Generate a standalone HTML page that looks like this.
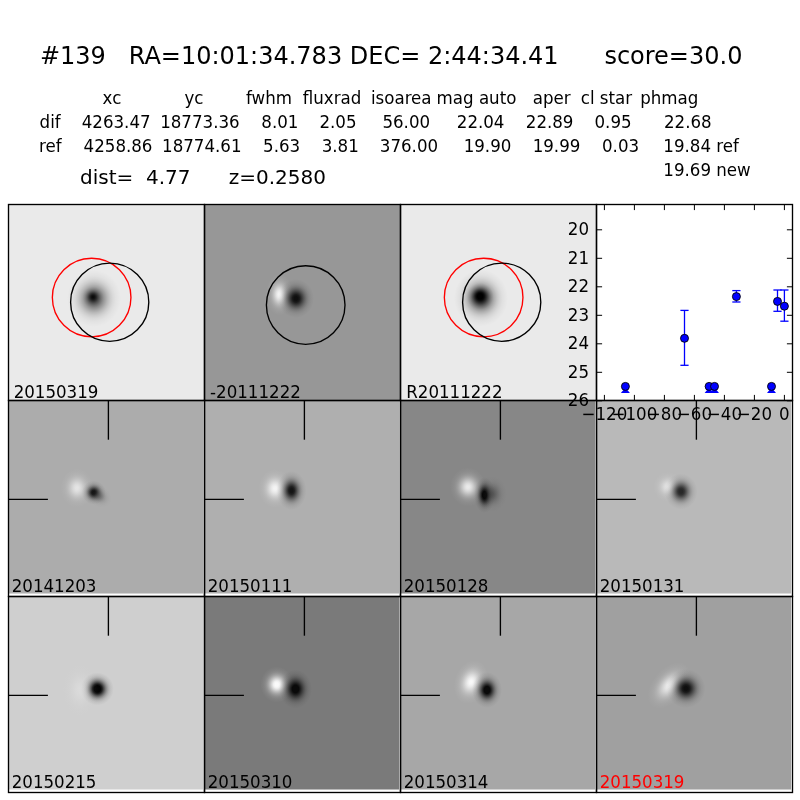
<!DOCTYPE html>
<html><head><meta charset="utf-8"><style>
html,body{margin:0;padding:0;background:#fff;width:800px;height:800px;overflow:hidden}
svg{display:block}
text{font-family:"DejaVu Sans","Liberation Sans",sans-serif;white-space:pre}
</style></head><body>
<svg width="800" height="800" viewBox="0 0 800 800">
<defs><clipPath id="c1"><rect x="8" y="204" width="196" height="196"/></clipPath><radialGradient id="g2"><stop offset="0.00" stop-color="rgb(0,0,0)" stop-opacity="0.900"/><stop offset="0.10" stop-color="rgb(0,0,0)" stop-opacity="0.860"/><stop offset="0.20" stop-color="rgb(0,0,0)" stop-opacity="0.752"/><stop offset="0.30" stop-color="rgb(0,0,0)" stop-opacity="0.600"/><stop offset="0.40" stop-color="rgb(0,0,0)" stop-opacity="0.438"/><stop offset="0.50" stop-color="rgb(0,0,0)" stop-opacity="0.292"/><stop offset="0.60" stop-color="rgb(0,0,0)" stop-opacity="0.178"/><stop offset="0.70" stop-color="rgb(0,0,0)" stop-opacity="0.099"/><stop offset="0.80" stop-color="rgb(0,0,0)" stop-opacity="0.051"/><stop offset="0.90" stop-color="rgb(0,0,0)" stop-opacity="0.024"/><stop offset="1.00" stop-color="rgb(0,0,0)" stop-opacity="0.000"/></radialGradient><radialGradient id="g3"><stop offset="0.00" stop-color="rgb(0,0,0)" stop-opacity="0.650"/><stop offset="0.10" stop-color="rgb(0,0,0)" stop-opacity="0.621"/><stop offset="0.20" stop-color="rgb(0,0,0)" stop-opacity="0.543"/><stop offset="0.30" stop-color="rgb(0,0,0)" stop-opacity="0.434"/><stop offset="0.40" stop-color="rgb(0,0,0)" stop-opacity="0.316"/><stop offset="0.50" stop-color="rgb(0,0,0)" stop-opacity="0.211"/><stop offset="0.60" stop-color="rgb(0,0,0)" stop-opacity="0.129"/><stop offset="0.70" stop-color="rgb(0,0,0)" stop-opacity="0.072"/><stop offset="0.80" stop-color="rgb(0,0,0)" stop-opacity="0.036"/><stop offset="0.90" stop-color="rgb(0,0,0)" stop-opacity="0.017"/><stop offset="1.00" stop-color="rgb(0,0,0)" stop-opacity="0.000"/></radialGradient><clipPath id="c4"><rect x="204" y="204" width="196" height="196"/></clipPath><radialGradient id="g5"><stop offset="0.00" stop-color="rgb(245,245,245)" stop-opacity="1.000"/><stop offset="0.10" stop-color="rgb(245,245,245)" stop-opacity="0.956"/><stop offset="0.20" stop-color="rgb(245,245,245)" stop-opacity="0.835"/><stop offset="0.30" stop-color="rgb(245,245,245)" stop-opacity="0.667"/><stop offset="0.40" stop-color="rgb(245,245,245)" stop-opacity="0.487"/><stop offset="0.50" stop-color="rgb(245,245,245)" stop-opacity="0.325"/><stop offset="0.60" stop-color="rgb(245,245,245)" stop-opacity="0.198"/><stop offset="0.70" stop-color="rgb(245,245,245)" stop-opacity="0.110"/><stop offset="0.80" stop-color="rgb(245,245,245)" stop-opacity="0.056"/><stop offset="0.90" stop-color="rgb(245,245,245)" stop-opacity="0.026"/><stop offset="1.00" stop-color="rgb(245,245,245)" stop-opacity="0.000"/></radialGradient><radialGradient id="g6"><stop offset="0.00" stop-color="rgb(15,15,15)" stop-opacity="1.000"/><stop offset="0.10" stop-color="rgb(15,15,15)" stop-opacity="1.000"/><stop offset="0.20" stop-color="rgb(15,15,15)" stop-opacity="0.919"/><stop offset="0.30" stop-color="rgb(15,15,15)" stop-opacity="0.734"/><stop offset="0.40" stop-color="rgb(15,15,15)" stop-opacity="0.535"/><stop offset="0.50" stop-color="rgb(15,15,15)" stop-opacity="0.357"/><stop offset="0.60" stop-color="rgb(15,15,15)" stop-opacity="0.218"/><stop offset="0.70" stop-color="rgb(15,15,15)" stop-opacity="0.121"/><stop offset="0.80" stop-color="rgb(15,15,15)" stop-opacity="0.062"/><stop offset="0.90" stop-color="rgb(15,15,15)" stop-opacity="0.029"/><stop offset="1.00" stop-color="rgb(15,15,15)" stop-opacity="0.000"/></radialGradient><clipPath id="c7"><rect x="400" y="204" width="196" height="196"/></clipPath><radialGradient id="g8"><stop offset="0.00" stop-color="rgb(0,0,0)" stop-opacity="1.000"/><stop offset="0.10" stop-color="rgb(0,0,0)" stop-opacity="1.000"/><stop offset="0.20" stop-color="rgb(0,0,0)" stop-opacity="1.000"/><stop offset="0.30" stop-color="rgb(0,0,0)" stop-opacity="0.867"/><stop offset="0.40" stop-color="rgb(0,0,0)" stop-opacity="0.633"/><stop offset="0.50" stop-color="rgb(0,0,0)" stop-opacity="0.422"/><stop offset="0.60" stop-color="rgb(0,0,0)" stop-opacity="0.257"/><stop offset="0.70" stop-color="rgb(0,0,0)" stop-opacity="0.143"/><stop offset="0.80" stop-color="rgb(0,0,0)" stop-opacity="0.073"/><stop offset="0.90" stop-color="rgb(0,0,0)" stop-opacity="0.034"/><stop offset="1.00" stop-color="rgb(0,0,0)" stop-opacity="0.000"/></radialGradient><radialGradient id="g9"><stop offset="0.00" stop-color="rgb(0,0,0)" stop-opacity="0.750"/><stop offset="0.10" stop-color="rgb(0,0,0)" stop-opacity="0.717"/><stop offset="0.20" stop-color="rgb(0,0,0)" stop-opacity="0.626"/><stop offset="0.30" stop-color="rgb(0,0,0)" stop-opacity="0.500"/><stop offset="0.40" stop-color="rgb(0,0,0)" stop-opacity="0.365"/><stop offset="0.50" stop-color="rgb(0,0,0)" stop-opacity="0.243"/><stop offset="0.60" stop-color="rgb(0,0,0)" stop-opacity="0.148"/><stop offset="0.70" stop-color="rgb(0,0,0)" stop-opacity="0.083"/><stop offset="0.80" stop-color="rgb(0,0,0)" stop-opacity="0.042"/><stop offset="0.90" stop-color="rgb(0,0,0)" stop-opacity="0.020"/><stop offset="1.00" stop-color="rgb(0,0,0)" stop-opacity="0.000"/></radialGradient><clipPath id="c10"><rect x="8" y="400" width="195.2" height="193.7"/></clipPath><radialGradient id="g11"><stop offset="0.00" stop-color="rgb(235,235,235)" stop-opacity="0.900"/><stop offset="0.10" stop-color="rgb(235,235,235)" stop-opacity="0.860"/><stop offset="0.20" stop-color="rgb(235,235,235)" stop-opacity="0.752"/><stop offset="0.30" stop-color="rgb(235,235,235)" stop-opacity="0.600"/><stop offset="0.40" stop-color="rgb(235,235,235)" stop-opacity="0.438"/><stop offset="0.50" stop-color="rgb(235,235,235)" stop-opacity="0.292"/><stop offset="0.60" stop-color="rgb(235,235,235)" stop-opacity="0.178"/><stop offset="0.70" stop-color="rgb(235,235,235)" stop-opacity="0.099"/><stop offset="0.80" stop-color="rgb(235,235,235)" stop-opacity="0.051"/><stop offset="0.90" stop-color="rgb(235,235,235)" stop-opacity="0.024"/><stop offset="1.00" stop-color="rgb(235,235,235)" stop-opacity="0.000"/></radialGradient><radialGradient id="g12"><stop offset="0.00" stop-color="rgb(15,15,15)" stop-opacity="1.000"/><stop offset="0.10" stop-color="rgb(15,15,15)" stop-opacity="1.000"/><stop offset="0.20" stop-color="rgb(15,15,15)" stop-opacity="0.919"/><stop offset="0.30" stop-color="rgb(15,15,15)" stop-opacity="0.734"/><stop offset="0.40" stop-color="rgb(15,15,15)" stop-opacity="0.535"/><stop offset="0.50" stop-color="rgb(15,15,15)" stop-opacity="0.357"/><stop offset="0.60" stop-color="rgb(15,15,15)" stop-opacity="0.218"/><stop offset="0.70" stop-color="rgb(15,15,15)" stop-opacity="0.121"/><stop offset="0.80" stop-color="rgb(15,15,15)" stop-opacity="0.062"/><stop offset="0.90" stop-color="rgb(15,15,15)" stop-opacity="0.029"/><stop offset="1.00" stop-color="rgb(15,15,15)" stop-opacity="0.000"/></radialGradient><radialGradient id="g13"><stop offset="0.00" stop-color="rgb(60,60,60)" stop-opacity="0.450"/><stop offset="0.10" stop-color="rgb(60,60,60)" stop-opacity="0.430"/><stop offset="0.20" stop-color="rgb(60,60,60)" stop-opacity="0.376"/><stop offset="0.30" stop-color="rgb(60,60,60)" stop-opacity="0.300"/><stop offset="0.40" stop-color="rgb(60,60,60)" stop-opacity="0.219"/><stop offset="0.50" stop-color="rgb(60,60,60)" stop-opacity="0.146"/><stop offset="0.60" stop-color="rgb(60,60,60)" stop-opacity="0.089"/><stop offset="0.70" stop-color="rgb(60,60,60)" stop-opacity="0.050"/><stop offset="0.80" stop-color="rgb(60,60,60)" stop-opacity="0.025"/><stop offset="0.90" stop-color="rgb(60,60,60)" stop-opacity="0.012"/><stop offset="1.00" stop-color="rgb(60,60,60)" stop-opacity="0.000"/></radialGradient><clipPath id="c14"><rect x="204" y="400" width="195.2" height="193.7"/></clipPath><radialGradient id="g15"><stop offset="0.00" stop-color="rgb(245,245,245)" stop-opacity="1.000"/><stop offset="0.10" stop-color="rgb(245,245,245)" stop-opacity="0.956"/><stop offset="0.20" stop-color="rgb(245,245,245)" stop-opacity="0.835"/><stop offset="0.30" stop-color="rgb(245,245,245)" stop-opacity="0.667"/><stop offset="0.40" stop-color="rgb(245,245,245)" stop-opacity="0.487"/><stop offset="0.50" stop-color="rgb(245,245,245)" stop-opacity="0.325"/><stop offset="0.60" stop-color="rgb(245,245,245)" stop-opacity="0.198"/><stop offset="0.70" stop-color="rgb(245,245,245)" stop-opacity="0.110"/><stop offset="0.80" stop-color="rgb(245,245,245)" stop-opacity="0.056"/><stop offset="0.90" stop-color="rgb(245,245,245)" stop-opacity="0.026"/><stop offset="1.00" stop-color="rgb(245,245,245)" stop-opacity="0.000"/></radialGradient><radialGradient id="g16"><stop offset="0.00" stop-color="rgb(20,20,20)" stop-opacity="1.000"/><stop offset="0.10" stop-color="rgb(20,20,20)" stop-opacity="1.000"/><stop offset="0.20" stop-color="rgb(20,20,20)" stop-opacity="0.919"/><stop offset="0.30" stop-color="rgb(20,20,20)" stop-opacity="0.734"/><stop offset="0.40" stop-color="rgb(20,20,20)" stop-opacity="0.535"/><stop offset="0.50" stop-color="rgb(20,20,20)" stop-opacity="0.357"/><stop offset="0.60" stop-color="rgb(20,20,20)" stop-opacity="0.218"/><stop offset="0.70" stop-color="rgb(20,20,20)" stop-opacity="0.121"/><stop offset="0.80" stop-color="rgb(20,20,20)" stop-opacity="0.062"/><stop offset="0.90" stop-color="rgb(20,20,20)" stop-opacity="0.029"/><stop offset="1.00" stop-color="rgb(20,20,20)" stop-opacity="0.000"/></radialGradient><clipPath id="c17"><rect x="400" y="400" width="195.2" height="193.7"/></clipPath><radialGradient id="g18"><stop offset="0.00" stop-color="rgb(235,235,235)" stop-opacity="1.000"/><stop offset="0.10" stop-color="rgb(235,235,235)" stop-opacity="0.956"/><stop offset="0.20" stop-color="rgb(235,235,235)" stop-opacity="0.835"/><stop offset="0.30" stop-color="rgb(235,235,235)" stop-opacity="0.667"/><stop offset="0.40" stop-color="rgb(235,235,235)" stop-opacity="0.487"/><stop offset="0.50" stop-color="rgb(235,235,235)" stop-opacity="0.325"/><stop offset="0.60" stop-color="rgb(235,235,235)" stop-opacity="0.198"/><stop offset="0.70" stop-color="rgb(235,235,235)" stop-opacity="0.110"/><stop offset="0.80" stop-color="rgb(235,235,235)" stop-opacity="0.056"/><stop offset="0.90" stop-color="rgb(235,235,235)" stop-opacity="0.026"/><stop offset="1.00" stop-color="rgb(235,235,235)" stop-opacity="0.000"/></radialGradient><radialGradient id="g19"><stop offset="0.00" stop-color="rgb(5,5,5)" stop-opacity="1.000"/><stop offset="0.10" stop-color="rgb(5,5,5)" stop-opacity="1.000"/><stop offset="0.20" stop-color="rgb(5,5,5)" stop-opacity="1.000"/><stop offset="0.30" stop-color="rgb(5,5,5)" stop-opacity="0.800"/><stop offset="0.40" stop-color="rgb(5,5,5)" stop-opacity="0.584"/><stop offset="0.50" stop-color="rgb(5,5,5)" stop-opacity="0.390"/><stop offset="0.60" stop-color="rgb(5,5,5)" stop-opacity="0.237"/><stop offset="0.70" stop-color="rgb(5,5,5)" stop-opacity="0.132"/><stop offset="0.80" stop-color="rgb(5,5,5)" stop-opacity="0.067"/><stop offset="0.90" stop-color="rgb(5,5,5)" stop-opacity="0.031"/><stop offset="1.00" stop-color="rgb(5,5,5)" stop-opacity="0.000"/></radialGradient><radialGradient id="g20"><stop offset="0.00" stop-color="rgb(40,40,40)" stop-opacity="0.500"/><stop offset="0.10" stop-color="rgb(40,40,40)" stop-opacity="0.478"/><stop offset="0.20" stop-color="rgb(40,40,40)" stop-opacity="0.418"/><stop offset="0.30" stop-color="rgb(40,40,40)" stop-opacity="0.333"/><stop offset="0.40" stop-color="rgb(40,40,40)" stop-opacity="0.243"/><stop offset="0.50" stop-color="rgb(40,40,40)" stop-opacity="0.162"/><stop offset="0.60" stop-color="rgb(40,40,40)" stop-opacity="0.099"/><stop offset="0.70" stop-color="rgb(40,40,40)" stop-opacity="0.055"/><stop offset="0.80" stop-color="rgb(40,40,40)" stop-opacity="0.028"/><stop offset="0.90" stop-color="rgb(40,40,40)" stop-opacity="0.013"/><stop offset="1.00" stop-color="rgb(40,40,40)" stop-opacity="0.000"/></radialGradient><clipPath id="c21"><rect x="596" y="400" width="195.2" height="193.7"/></clipPath><radialGradient id="g22"><stop offset="0.00" stop-color="rgb(240,240,240)" stop-opacity="0.800"/><stop offset="0.10" stop-color="rgb(240,240,240)" stop-opacity="0.765"/><stop offset="0.20" stop-color="rgb(240,240,240)" stop-opacity="0.668"/><stop offset="0.30" stop-color="rgb(240,240,240)" stop-opacity="0.534"/><stop offset="0.40" stop-color="rgb(240,240,240)" stop-opacity="0.389"/><stop offset="0.50" stop-color="rgb(240,240,240)" stop-opacity="0.260"/><stop offset="0.60" stop-color="rgb(240,240,240)" stop-opacity="0.158"/><stop offset="0.70" stop-color="rgb(240,240,240)" stop-opacity="0.088"/><stop offset="0.80" stop-color="rgb(240,240,240)" stop-opacity="0.045"/><stop offset="0.90" stop-color="rgb(240,240,240)" stop-opacity="0.021"/><stop offset="1.00" stop-color="rgb(240,240,240)" stop-opacity="0.000"/></radialGradient><radialGradient id="g23"><stop offset="0.00" stop-color="rgb(40,40,40)" stop-opacity="1.000"/><stop offset="0.10" stop-color="rgb(40,40,40)" stop-opacity="1.000"/><stop offset="0.20" stop-color="rgb(40,40,40)" stop-opacity="0.919"/><stop offset="0.30" stop-color="rgb(40,40,40)" stop-opacity="0.734"/><stop offset="0.40" stop-color="rgb(40,40,40)" stop-opacity="0.535"/><stop offset="0.50" stop-color="rgb(40,40,40)" stop-opacity="0.357"/><stop offset="0.60" stop-color="rgb(40,40,40)" stop-opacity="0.218"/><stop offset="0.70" stop-color="rgb(40,40,40)" stop-opacity="0.121"/><stop offset="0.80" stop-color="rgb(40,40,40)" stop-opacity="0.062"/><stop offset="0.90" stop-color="rgb(40,40,40)" stop-opacity="0.029"/><stop offset="1.00" stop-color="rgb(40,40,40)" stop-opacity="0.000"/></radialGradient><clipPath id="c24"><rect x="8" y="596" width="195.2" height="193.7"/></clipPath><radialGradient id="g25"><stop offset="0.00" stop-color="rgb(5,5,5)" stop-opacity="1.000"/><stop offset="0.10" stop-color="rgb(5,5,5)" stop-opacity="1.000"/><stop offset="0.20" stop-color="rgb(5,5,5)" stop-opacity="1.000"/><stop offset="0.30" stop-color="rgb(5,5,5)" stop-opacity="0.867"/><stop offset="0.40" stop-color="rgb(5,5,5)" stop-opacity="0.633"/><stop offset="0.50" stop-color="rgb(5,5,5)" stop-opacity="0.422"/><stop offset="0.60" stop-color="rgb(5,5,5)" stop-opacity="0.257"/><stop offset="0.70" stop-color="rgb(5,5,5)" stop-opacity="0.143"/><stop offset="0.80" stop-color="rgb(5,5,5)" stop-opacity="0.073"/><stop offset="0.90" stop-color="rgb(5,5,5)" stop-opacity="0.034"/><stop offset="1.00" stop-color="rgb(5,5,5)" stop-opacity="0.000"/></radialGradient><radialGradient id="g26"><stop offset="0.00" stop-color="rgb(230,230,230)" stop-opacity="0.500"/><stop offset="0.10" stop-color="rgb(230,230,230)" stop-opacity="0.478"/><stop offset="0.20" stop-color="rgb(230,230,230)" stop-opacity="0.418"/><stop offset="0.30" stop-color="rgb(230,230,230)" stop-opacity="0.333"/><stop offset="0.40" stop-color="rgb(230,230,230)" stop-opacity="0.243"/><stop offset="0.50" stop-color="rgb(230,230,230)" stop-opacity="0.162"/><stop offset="0.60" stop-color="rgb(230,230,230)" stop-opacity="0.099"/><stop offset="0.70" stop-color="rgb(230,230,230)" stop-opacity="0.055"/><stop offset="0.80" stop-color="rgb(230,230,230)" stop-opacity="0.028"/><stop offset="0.90" stop-color="rgb(230,230,230)" stop-opacity="0.013"/><stop offset="1.00" stop-color="rgb(230,230,230)" stop-opacity="0.000"/></radialGradient><clipPath id="c27"><rect x="204" y="596" width="195.2" height="193.7"/></clipPath><radialGradient id="g28"><stop offset="0.00" stop-color="rgb(250,250,250)" stop-opacity="1.000"/><stop offset="0.10" stop-color="rgb(250,250,250)" stop-opacity="1.000"/><stop offset="0.20" stop-color="rgb(250,250,250)" stop-opacity="0.919"/><stop offset="0.30" stop-color="rgb(250,250,250)" stop-opacity="0.734"/><stop offset="0.40" stop-color="rgb(250,250,250)" stop-opacity="0.535"/><stop offset="0.50" stop-color="rgb(250,250,250)" stop-opacity="0.357"/><stop offset="0.60" stop-color="rgb(250,250,250)" stop-opacity="0.218"/><stop offset="0.70" stop-color="rgb(250,250,250)" stop-opacity="0.121"/><stop offset="0.80" stop-color="rgb(250,250,250)" stop-opacity="0.062"/><stop offset="0.90" stop-color="rgb(250,250,250)" stop-opacity="0.029"/><stop offset="1.00" stop-color="rgb(250,250,250)" stop-opacity="0.000"/></radialGradient><radialGradient id="g29"><stop offset="0.00" stop-color="rgb(10,10,10)" stop-opacity="1.000"/><stop offset="0.10" stop-color="rgb(10,10,10)" stop-opacity="1.000"/><stop offset="0.20" stop-color="rgb(10,10,10)" stop-opacity="1.000"/><stop offset="0.30" stop-color="rgb(10,10,10)" stop-opacity="0.800"/><stop offset="0.40" stop-color="rgb(10,10,10)" stop-opacity="0.584"/><stop offset="0.50" stop-color="rgb(10,10,10)" stop-opacity="0.390"/><stop offset="0.60" stop-color="rgb(10,10,10)" stop-opacity="0.237"/><stop offset="0.70" stop-color="rgb(10,10,10)" stop-opacity="0.132"/><stop offset="0.80" stop-color="rgb(10,10,10)" stop-opacity="0.067"/><stop offset="0.90" stop-color="rgb(10,10,10)" stop-opacity="0.031"/><stop offset="1.00" stop-color="rgb(10,10,10)" stop-opacity="0.000"/></radialGradient><clipPath id="c30"><rect x="400" y="596" width="195.2" height="193.7"/></clipPath><radialGradient id="g31"><stop offset="0.00" stop-color="rgb(250,250,250)" stop-opacity="1.000"/><stop offset="0.10" stop-color="rgb(250,250,250)" stop-opacity="0.956"/><stop offset="0.20" stop-color="rgb(250,250,250)" stop-opacity="0.835"/><stop offset="0.30" stop-color="rgb(250,250,250)" stop-opacity="0.667"/><stop offset="0.40" stop-color="rgb(250,250,250)" stop-opacity="0.487"/><stop offset="0.50" stop-color="rgb(250,250,250)" stop-opacity="0.325"/><stop offset="0.60" stop-color="rgb(250,250,250)" stop-opacity="0.198"/><stop offset="0.70" stop-color="rgb(250,250,250)" stop-opacity="0.110"/><stop offset="0.80" stop-color="rgb(250,250,250)" stop-opacity="0.056"/><stop offset="0.90" stop-color="rgb(250,250,250)" stop-opacity="0.026"/><stop offset="1.00" stop-color="rgb(250,250,250)" stop-opacity="0.000"/></radialGradient><radialGradient id="g32"><stop offset="0.00" stop-color="rgb(10,10,10)" stop-opacity="1.000"/><stop offset="0.10" stop-color="rgb(10,10,10)" stop-opacity="1.000"/><stop offset="0.20" stop-color="rgb(10,10,10)" stop-opacity="1.000"/><stop offset="0.30" stop-color="rgb(10,10,10)" stop-opacity="0.800"/><stop offset="0.40" stop-color="rgb(10,10,10)" stop-opacity="0.584"/><stop offset="0.50" stop-color="rgb(10,10,10)" stop-opacity="0.390"/><stop offset="0.60" stop-color="rgb(10,10,10)" stop-opacity="0.237"/><stop offset="0.70" stop-color="rgb(10,10,10)" stop-opacity="0.132"/><stop offset="0.80" stop-color="rgb(10,10,10)" stop-opacity="0.067"/><stop offset="0.90" stop-color="rgb(10,10,10)" stop-opacity="0.031"/><stop offset="1.00" stop-color="rgb(10,10,10)" stop-opacity="0.000"/></radialGradient><clipPath id="c33"><rect x="596" y="596" width="195.2" height="193.7"/></clipPath><radialGradient id="g34"><stop offset="0.00" stop-color="rgb(245,245,245)" stop-opacity="0.900"/><stop offset="0.10" stop-color="rgb(245,245,245)" stop-opacity="0.860"/><stop offset="0.20" stop-color="rgb(245,245,245)" stop-opacity="0.752"/><stop offset="0.30" stop-color="rgb(245,245,245)" stop-opacity="0.600"/><stop offset="0.40" stop-color="rgb(245,245,245)" stop-opacity="0.438"/><stop offset="0.50" stop-color="rgb(245,245,245)" stop-opacity="0.292"/><stop offset="0.60" stop-color="rgb(245,245,245)" stop-opacity="0.178"/><stop offset="0.70" stop-color="rgb(245,245,245)" stop-opacity="0.099"/><stop offset="0.80" stop-color="rgb(245,245,245)" stop-opacity="0.051"/><stop offset="0.90" stop-color="rgb(245,245,245)" stop-opacity="0.024"/><stop offset="1.00" stop-color="rgb(245,245,245)" stop-opacity="0.000"/></radialGradient><radialGradient id="g35"><stop offset="0.00" stop-color="rgb(15,15,15)" stop-opacity="1.000"/><stop offset="0.10" stop-color="rgb(15,15,15)" stop-opacity="1.000"/><stop offset="0.20" stop-color="rgb(15,15,15)" stop-opacity="0.919"/><stop offset="0.30" stop-color="rgb(15,15,15)" stop-opacity="0.734"/><stop offset="0.40" stop-color="rgb(15,15,15)" stop-opacity="0.535"/><stop offset="0.50" stop-color="rgb(15,15,15)" stop-opacity="0.357"/><stop offset="0.60" stop-color="rgb(15,15,15)" stop-opacity="0.218"/><stop offset="0.70" stop-color="rgb(15,15,15)" stop-opacity="0.121"/><stop offset="0.80" stop-color="rgb(15,15,15)" stop-opacity="0.062"/><stop offset="0.90" stop-color="rgb(15,15,15)" stop-opacity="0.029"/><stop offset="1.00" stop-color="rgb(15,15,15)" stop-opacity="0.000"/></radialGradient></defs>
<text x="39.90" y="63.75" font-size="24.000" fill="#000">#139   RA=10:01:34.783 DEC= 2:44:34.41      score=30.0</text>
<text transform="translate(102.62 104.00) scale(1 1.07)" font-size="16.667" fill="#000">xc</text>
<text transform="translate(184.40 104.00) scale(1 1.07)" font-size="16.667" fill="#000">yc</text>
<text transform="translate(246.02 104.00) scale(1 1.07)" font-size="16.667" fill="#000">fwhm</text>
<text transform="translate(302.72 104.00) scale(1 1.07)" font-size="16.667" fill="#000">fluxrad</text>
<text transform="translate(370.93 104.00) scale(1 1.07)" font-size="16.667" fill="#000">isoarea</text>
<text transform="translate(436.59 104.00) scale(1 1.07)" font-size="16.667" fill="#000">mag auto</text>
<text transform="translate(532.70 104.00) scale(1 1.07)" font-size="16.667" fill="#000">aper</text>
<text transform="translate(580.78 104.00) scale(1 1.07)" font-size="16.667" fill="#000">cl star</text>
<text transform="translate(640.19 104.00) scale(1 1.07)" font-size="16.667" fill="#000">phmag</text>
<text transform="translate(39.58 127.50) scale(1 1.07)" font-size="16.667" fill="#000">dif</text>
<text transform="translate(81.69 127.50) scale(1 1.07)" font-size="16.667" fill="#000">4263.47</text>
<text transform="translate(160.17 127.50) scale(1 1.07)" font-size="16.667" fill="#000">18773.36</text>
<text transform="translate(261.37 127.50) scale(1 1.07)" font-size="16.667" fill="#000">8.01</text>
<text transform="translate(319.48 127.50) scale(1 1.07)" font-size="16.667" fill="#000">2.05</text>
<text transform="translate(382.41 127.50) scale(1 1.07)" font-size="16.667" fill="#000">56.00</text>
<text transform="translate(456.78 127.50) scale(1 1.07)" font-size="16.667" fill="#000">22.04</text>
<text transform="translate(525.78 127.50) scale(1 1.07)" font-size="16.667" fill="#000">22.89</text>
<text transform="translate(594.50 127.50) scale(1 1.07)" font-size="16.667" fill="#000">0.95</text>
<text transform="translate(663.98 127.50) scale(1 1.07)" font-size="16.667" fill="#000">22.68</text>
<text transform="translate(38.99 151.70) scale(1 1.07)" font-size="16.667" fill="#000">ref</text>
<text transform="translate(83.59 151.70) scale(1 1.07)" font-size="16.667" fill="#000">4258.86</text>
<text transform="translate(162.07 151.70) scale(1 1.07)" font-size="16.667" fill="#000">18774.61</text>
<text transform="translate(263.11 151.70) scale(1 1.07)" font-size="16.667" fill="#000">5.63</text>
<text transform="translate(321.73 151.70) scale(1 1.07)" font-size="16.667" fill="#000">3.81</text>
<text transform="translate(379.83 151.70) scale(1 1.07)" font-size="16.667" fill="#000">376.00</text>
<text transform="translate(463.67 151.70) scale(1 1.07)" font-size="16.667" fill="#000">19.90</text>
<text transform="translate(532.67 151.70) scale(1 1.07)" font-size="16.667" fill="#000">19.99</text>
<text transform="translate(602.00 151.70) scale(1 1.07)" font-size="16.667" fill="#000">0.03</text>
<text transform="translate(663.37 151.70) scale(1 1.07)" font-size="16.667" fill="#000">19.84</text>
<text transform="translate(716.29 151.70) scale(1 1.07)" font-size="16.667" fill="#000">ref</text>
<text transform="translate(663.37 175.80) scale(1 1.07)" font-size="16.667" fill="#000">19.69</text>
<text transform="translate(716.29 175.80) scale(1 1.07)" font-size="16.667" fill="#000">new</text>
<text x="80.00" y="183.60" font-size="20.000" fill="#000">dist=  4.77      z=0.2580</text>
<g clip-path="url(#c1)">
<rect x="8" y="204" width="196" height="196" fill="rgb(234,234,234)"/>
<ellipse cx="93.00" cy="297.00" rx="10.50" ry="10.50" fill="url(#g2)"/>
<ellipse cx="94.00" cy="298.50" rx="27.00" ry="28.50" fill="url(#g3)"/>
</g>
<text transform="translate(13.63 397.90) scale(1 1.07)" font-size="16.667" fill="#000">20150319</text>
<circle cx="91.65" cy="297.5" r="39.3" fill="none" stroke="#ff0000" stroke-width="1.35"/>
<circle cx="109.7" cy="302.2" r="39.1" fill="none" stroke="#000" stroke-width="1.35"/>
<g clip-path="url(#c4)">
<rect x="204" y="204" width="196" height="196" fill="rgb(151,151,151)"/>
<ellipse cx="279.30" cy="294.50" rx="13.50" ry="21.00" fill="url(#g5)"/>
<ellipse cx="296.00" cy="298.50" rx="18.00" ry="19.50" fill="url(#g6)"/>
</g>
<text transform="translate(210.04 397.90) scale(1 1.07)" font-size="16.667" fill="#000">-20111222</text>
<circle cx="305.7" cy="305" r="39.3" fill="none" stroke="#000" stroke-width="1.35"/>
<g clip-path="url(#c7)">
<rect x="400" y="204" width="196" height="196" fill="rgb(234,234,234)"/>
<ellipse cx="480.10" cy="296.30" rx="13.50" ry="13.50" fill="url(#g8)"/>
<ellipse cx="481.00" cy="298.00" rx="27.00" ry="28.50" fill="url(#g9)"/>
</g>
<text transform="translate(406.21 397.90) scale(1 1.07)" font-size="16.667" fill="#000">R20111222</text>
<circle cx="483.65" cy="297.5" r="39.3" fill="none" stroke="#ff0000" stroke-width="1.35"/>
<circle cx="501.7" cy="302.2" r="39.1" fill="none" stroke="#000" stroke-width="1.35"/>
<g clip-path="url(#c10)">
<rect x="8" y="400" width="195.2" height="193.7" fill="rgb(172,172,172)"/>
<ellipse cx="77.00" cy="488.00" rx="16.50" ry="19.50" fill="url(#g11)"/>
<ellipse cx="93.80" cy="492.50" rx="12.00" ry="12.00" fill="url(#g12)"/>
<ellipse cx="99.00" cy="496.00" rx="13.50" ry="10.50" fill="url(#g13)" transform="rotate(35 99.00 496.00)"/>
</g>
<line x1="8" y1="499.35" x2="47.9" y2="499.35" stroke="#000" stroke-width="1.35"/>
<line x1="108.4" y1="400" x2="108.4" y2="439.7" stroke="#000" stroke-width="1.35"/>
<text transform="translate(11.68 591.90) scale(1 1.07)" font-size="16.667" fill="#000">20141203</text>
<g clip-path="url(#c14)">
<rect x="204" y="400" width="195.2" height="193.7" fill="rgb(175,175,175)"/>
<ellipse cx="275.00" cy="488.50" rx="16.50" ry="19.50" fill="url(#g15)"/>
<ellipse cx="291.50" cy="490.50" rx="15.00" ry="19.50" fill="url(#g16)"/>
</g>
<line x1="204" y1="499.35" x2="243.9" y2="499.35" stroke="#000" stroke-width="1.35"/>
<line x1="304.4" y1="400" x2="304.4" y2="439.7" stroke="#000" stroke-width="1.35"/>
<text transform="translate(207.68 591.90) scale(1 1.07)" font-size="16.667" fill="#000">20150111</text>
<g clip-path="url(#c17)">
<rect x="400" y="400" width="195.2" height="193.7" fill="rgb(135,135,135)"/>
<ellipse cx="468.00" cy="487.00" rx="18.00" ry="19.50" fill="url(#g18)"/>
<ellipse cx="484.50" cy="495.00" rx="10.50" ry="18.00" fill="url(#g19)"/>
<ellipse cx="492.00" cy="494.00" rx="15.00" ry="18.00" fill="url(#g20)"/>
</g>
<line x1="400" y1="499.35" x2="439.9" y2="499.35" stroke="#000" stroke-width="1.35"/>
<line x1="500.4" y1="400" x2="500.4" y2="439.7" stroke="#000" stroke-width="1.35"/>
<text transform="translate(403.68 591.90) scale(1 1.07)" font-size="16.667" fill="#000">20150128</text>
<g clip-path="url(#c21)">
<rect x="596" y="400" width="195.2" height="193.7" fill="rgb(185,185,185)"/>
<ellipse cx="668.00" cy="486.80" rx="15.00" ry="15.00" fill="url(#g22)"/>
<ellipse cx="681.00" cy="491.50" rx="16.50" ry="18.00" fill="url(#g23)"/>
</g>
<line x1="596" y1="499.35" x2="635.9" y2="499.35" stroke="#000" stroke-width="1.35"/>
<line x1="696.4" y1="400" x2="696.4" y2="439.7" stroke="#000" stroke-width="1.35"/>
<text transform="translate(599.68 591.90) scale(1 1.07)" font-size="16.667" fill="#000">20150131</text>
<g clip-path="url(#c24)">
<rect x="8" y="596" width="195.2" height="193.7" fill="rgb(207,207,207)"/>
<ellipse cx="97.30" cy="688.90" rx="16.50" ry="16.50" fill="url(#g25)"/>
<ellipse cx="80.00" cy="690.00" rx="18.00" ry="27.00" fill="url(#g26)"/>
</g>
<line x1="8" y1="695.35" x2="47.9" y2="695.35" stroke="#000" stroke-width="1.35"/>
<line x1="108.4" y1="596" x2="108.4" y2="635.7" stroke="#000" stroke-width="1.35"/>
<text transform="translate(11.68 787.90) scale(1 1.07)" font-size="16.667" fill="#000">20150215</text>
<g clip-path="url(#c27)">
<rect x="204" y="596" width="195.2" height="193.7" fill="rgb(122,122,122)"/>
<ellipse cx="276.80" cy="684.50" rx="16.50" ry="18.00" fill="url(#g28)"/>
<ellipse cx="295.50" cy="689.00" rx="16.50" ry="19.50" fill="url(#g29)"/>
</g>
<line x1="204" y1="695.35" x2="243.9" y2="695.35" stroke="#000" stroke-width="1.35"/>
<line x1="304.4" y1="596" x2="304.4" y2="635.7" stroke="#000" stroke-width="1.35"/>
<text transform="translate(207.68 787.90) scale(1 1.07)" font-size="16.667" fill="#000">20150310</text>
<g clip-path="url(#c30)">
<rect x="400" y="596" width="195.2" height="193.7" fill="rgb(167,167,167)"/>
<ellipse cx="471.00" cy="682.00" rx="16.50" ry="22.50" fill="url(#g31)" transform="rotate(20 471.00 682.00)"/>
<ellipse cx="487.00" cy="690.00" rx="15.00" ry="18.00" fill="url(#g32)"/>
</g>
<line x1="400" y1="695.35" x2="439.9" y2="695.35" stroke="#000" stroke-width="1.35"/>
<line x1="500.4" y1="596" x2="500.4" y2="635.7" stroke="#000" stroke-width="1.35"/>
<text transform="translate(403.68 787.90) scale(1 1.07)" font-size="16.667" fill="#000">20150314</text>
<g clip-path="url(#c33)">
<rect x="596" y="596" width="195.2" height="193.7" fill="rgb(160,160,160)"/>
<ellipse cx="669.00" cy="685.50" rx="16.50" ry="27.00" fill="url(#g34)" transform="rotate(40 669.00 685.50)"/>
<ellipse cx="686.00" cy="688.50" rx="19.50" ry="19.50" fill="url(#g35)"/>
</g>
<line x1="596" y1="695.35" x2="635.9" y2="695.35" stroke="#000" stroke-width="1.35"/>
<line x1="696.4" y1="596" x2="696.4" y2="635.7" stroke="#000" stroke-width="1.35"/>
<text transform="translate(599.68 787.90) scale(1 1.07)" font-size="16.667" fill="#ff0000">20150319</text>
<rect x="596.5" y="204.5" width="196.0" height="196.0" fill="#fff"/>
<line x1="604.40" y1="204.5" x2="604.40" y2="210.1" stroke="#000" stroke-width="1"/>
<line x1="604.40" y1="400.5" x2="604.40" y2="394.9" stroke="#000" stroke-width="1"/>
<text transform="translate(604.40 420.40) scale(1 1.07)" font-size="16.667" fill="#000" text-anchor="middle">−120</text>
<line x1="634.40" y1="204.5" x2="634.40" y2="210.1" stroke="#000" stroke-width="1"/>
<line x1="634.40" y1="400.5" x2="634.40" y2="394.9" stroke="#000" stroke-width="1"/>
<text transform="translate(634.40 420.40) scale(1 1.07)" font-size="16.667" fill="#000" text-anchor="middle">−100</text>
<line x1="664.40" y1="204.5" x2="664.40" y2="210.1" stroke="#000" stroke-width="1"/>
<line x1="664.40" y1="400.5" x2="664.40" y2="394.9" stroke="#000" stroke-width="1"/>
<text transform="translate(664.40 420.40) scale(1 1.07)" font-size="16.667" fill="#000" text-anchor="middle">−80</text>
<line x1="694.40" y1="204.5" x2="694.40" y2="210.1" stroke="#000" stroke-width="1"/>
<line x1="694.40" y1="400.5" x2="694.40" y2="394.9" stroke="#000" stroke-width="1"/>
<text transform="translate(694.40 420.40) scale(1 1.07)" font-size="16.667" fill="#000" text-anchor="middle">−60</text>
<line x1="724.40" y1="204.5" x2="724.40" y2="210.1" stroke="#000" stroke-width="1"/>
<line x1="724.40" y1="400.5" x2="724.40" y2="394.9" stroke="#000" stroke-width="1"/>
<text transform="translate(724.40 420.40) scale(1 1.07)" font-size="16.667" fill="#000" text-anchor="middle">−40</text>
<line x1="754.40" y1="204.5" x2="754.40" y2="210.1" stroke="#000" stroke-width="1"/>
<line x1="754.40" y1="400.5" x2="754.40" y2="394.9" stroke="#000" stroke-width="1"/>
<text transform="translate(754.40 420.40) scale(1 1.07)" font-size="16.667" fill="#000" text-anchor="middle">−20</text>
<line x1="784.40" y1="204.5" x2="784.40" y2="210.1" stroke="#000" stroke-width="1"/>
<line x1="784.40" y1="400.5" x2="784.40" y2="394.9" stroke="#000" stroke-width="1"/>
<text transform="translate(784.40 420.40) scale(1 1.07)" font-size="16.667" fill="#000" text-anchor="middle">0</text>
<line x1="596.5" y1="229.80" x2="602.1" y2="229.80" stroke="#000" stroke-width="1"/>
<line x1="792.5" y1="229.80" x2="786.9" y2="229.80" stroke="#000" stroke-width="1"/>
<text transform="translate(589.00 235.10) scale(1 1.07)" font-size="16.667" fill="#000" text-anchor="end">20</text>
<line x1="596.5" y1="258.30" x2="602.1" y2="258.30" stroke="#000" stroke-width="1"/>
<line x1="792.5" y1="258.30" x2="786.9" y2="258.30" stroke="#000" stroke-width="1"/>
<text transform="translate(589.00 263.60) scale(1 1.07)" font-size="16.667" fill="#000" text-anchor="end">21</text>
<line x1="596.5" y1="286.80" x2="602.1" y2="286.80" stroke="#000" stroke-width="1"/>
<line x1="792.5" y1="286.80" x2="786.9" y2="286.80" stroke="#000" stroke-width="1"/>
<text transform="translate(589.00 292.10) scale(1 1.07)" font-size="16.667" fill="#000" text-anchor="end">22</text>
<line x1="596.5" y1="315.30" x2="602.1" y2="315.30" stroke="#000" stroke-width="1"/>
<line x1="792.5" y1="315.30" x2="786.9" y2="315.30" stroke="#000" stroke-width="1"/>
<text transform="translate(589.00 320.60) scale(1 1.07)" font-size="16.667" fill="#000" text-anchor="end">23</text>
<line x1="596.5" y1="343.80" x2="602.1" y2="343.80" stroke="#000" stroke-width="1"/>
<line x1="792.5" y1="343.80" x2="786.9" y2="343.80" stroke="#000" stroke-width="1"/>
<text transform="translate(589.00 349.10) scale(1 1.07)" font-size="16.667" fill="#000" text-anchor="end">24</text>
<line x1="596.5" y1="372.30" x2="602.1" y2="372.30" stroke="#000" stroke-width="1"/>
<line x1="792.5" y1="372.30" x2="786.9" y2="372.30" stroke="#000" stroke-width="1"/>
<text transform="translate(589.00 377.60) scale(1 1.07)" font-size="16.667" fill="#000" text-anchor="end">25</text>
<line x1="596.5" y1="400.80" x2="602.1" y2="400.80" stroke="#000" stroke-width="1"/>
<line x1="792.5" y1="400.80" x2="786.9" y2="400.80" stroke="#000" stroke-width="1"/>
<text transform="translate(589.00 406.10) scale(1 1.07)" font-size="16.667" fill="#000" text-anchor="end">26</text>
<polygon points="620.9,392.9 629.9,392.9 625.4,387.4" fill="#0000ff"/>
<line x1="684.5" y1="310.4" x2="684.5" y2="365.3" stroke="#0000ff" stroke-width="1.3"/>
<line x1="680.4" y1="310.4" x2="688.6" y2="310.4" stroke="#0000ff" stroke-width="1.3"/>
<line x1="680.4" y1="365.3" x2="688.6" y2="365.3" stroke="#0000ff" stroke-width="1.3"/>
<polygon points="704.6,392.9 713.6,392.9 709.1,387.4" fill="#0000ff"/>
<polygon points="710.0,392.9 719.0,392.9 714.5,387.4" fill="#0000ff"/>
<line x1="736.4" y1="290.6" x2="736.4" y2="302" stroke="#0000ff" stroke-width="1.3"/>
<line x1="732.3" y1="290.6" x2="740.5" y2="290.6" stroke="#0000ff" stroke-width="1.3"/>
<line x1="732.3" y1="302" x2="740.5" y2="302" stroke="#0000ff" stroke-width="1.3"/>
<polygon points="767.0,392.9 776.0,392.9 771.5,387.4" fill="#0000ff"/>
<line x1="777.5" y1="290" x2="777.5" y2="311.3" stroke="#0000ff" stroke-width="1.3"/>
<line x1="773.4" y1="290" x2="781.6" y2="290" stroke="#0000ff" stroke-width="1.3"/>
<line x1="773.4" y1="311.3" x2="781.6" y2="311.3" stroke="#0000ff" stroke-width="1.3"/>
<line x1="784.4" y1="290" x2="784.4" y2="321.2" stroke="#0000ff" stroke-width="1.3"/>
<line x1="780.3" y1="290" x2="788.5" y2="290" stroke="#0000ff" stroke-width="1.3"/>
<line x1="780.3" y1="321.2" x2="788.5" y2="321.2" stroke="#0000ff" stroke-width="1.3"/>
<circle cx="625.4" cy="386.4" r="4.0" fill="#0000ff" stroke="#000" stroke-width="0.9" shape-rendering="geometricPrecision"/>
<circle cx="684.5" cy="338.3" r="4.0" fill="#0000ff" stroke="#000" stroke-width="0.9" shape-rendering="geometricPrecision"/>
<circle cx="709.1" cy="386.4" r="4.0" fill="#0000ff" stroke="#000" stroke-width="0.9" shape-rendering="geometricPrecision"/>
<circle cx="714.5" cy="386.4" r="4.0" fill="#0000ff" stroke="#000" stroke-width="0.9" shape-rendering="geometricPrecision"/>
<circle cx="736.4" cy="296.6" r="4.0" fill="#0000ff" stroke="#000" stroke-width="0.9" shape-rendering="geometricPrecision"/>
<circle cx="771.5" cy="386.4" r="4.0" fill="#0000ff" stroke="#000" stroke-width="0.9" shape-rendering="geometricPrecision"/>
<circle cx="777.5" cy="301.4" r="4.0" fill="#0000ff" stroke="#000" stroke-width="0.9" shape-rendering="geometricPrecision"/>
<circle cx="784.4" cy="306.2" r="4.0" fill="#0000ff" stroke="#000" stroke-width="0.9" shape-rendering="geometricPrecision"/>
<rect x="596.5" y="204.5" width="196.0" height="196.0" fill="none" stroke="#000" stroke-width="1.35"/>
<rect x="8.5" y="204.5" width="196" height="196" fill="none" stroke="#000" stroke-width="1.35"/>
<rect x="204.5" y="204.5" width="196" height="196" fill="none" stroke="#000" stroke-width="1.35"/>
<rect x="400.5" y="204.5" width="196" height="196" fill="none" stroke="#000" stroke-width="1.35"/>
<rect x="8.5" y="400.5" width="196" height="196" fill="none" stroke="#000" stroke-width="1.35"/>
<rect x="204.5" y="400.5" width="196" height="196" fill="none" stroke="#000" stroke-width="1.35"/>
<rect x="400.5" y="400.5" width="196" height="196" fill="none" stroke="#000" stroke-width="1.35"/>
<rect x="596.5" y="400.5" width="196" height="196" fill="none" stroke="#000" stroke-width="1.35"/>
<rect x="8.5" y="596.5" width="196" height="196" fill="none" stroke="#000" stroke-width="1.35"/>
<rect x="204.5" y="596.5" width="196" height="196" fill="none" stroke="#000" stroke-width="1.35"/>
<rect x="400.5" y="596.5" width="196" height="196" fill="none" stroke="#000" stroke-width="1.35"/>
<rect x="596.5" y="596.5" width="196" height="196" fill="none" stroke="#000" stroke-width="1.35"/>
</svg>
</body></html>
